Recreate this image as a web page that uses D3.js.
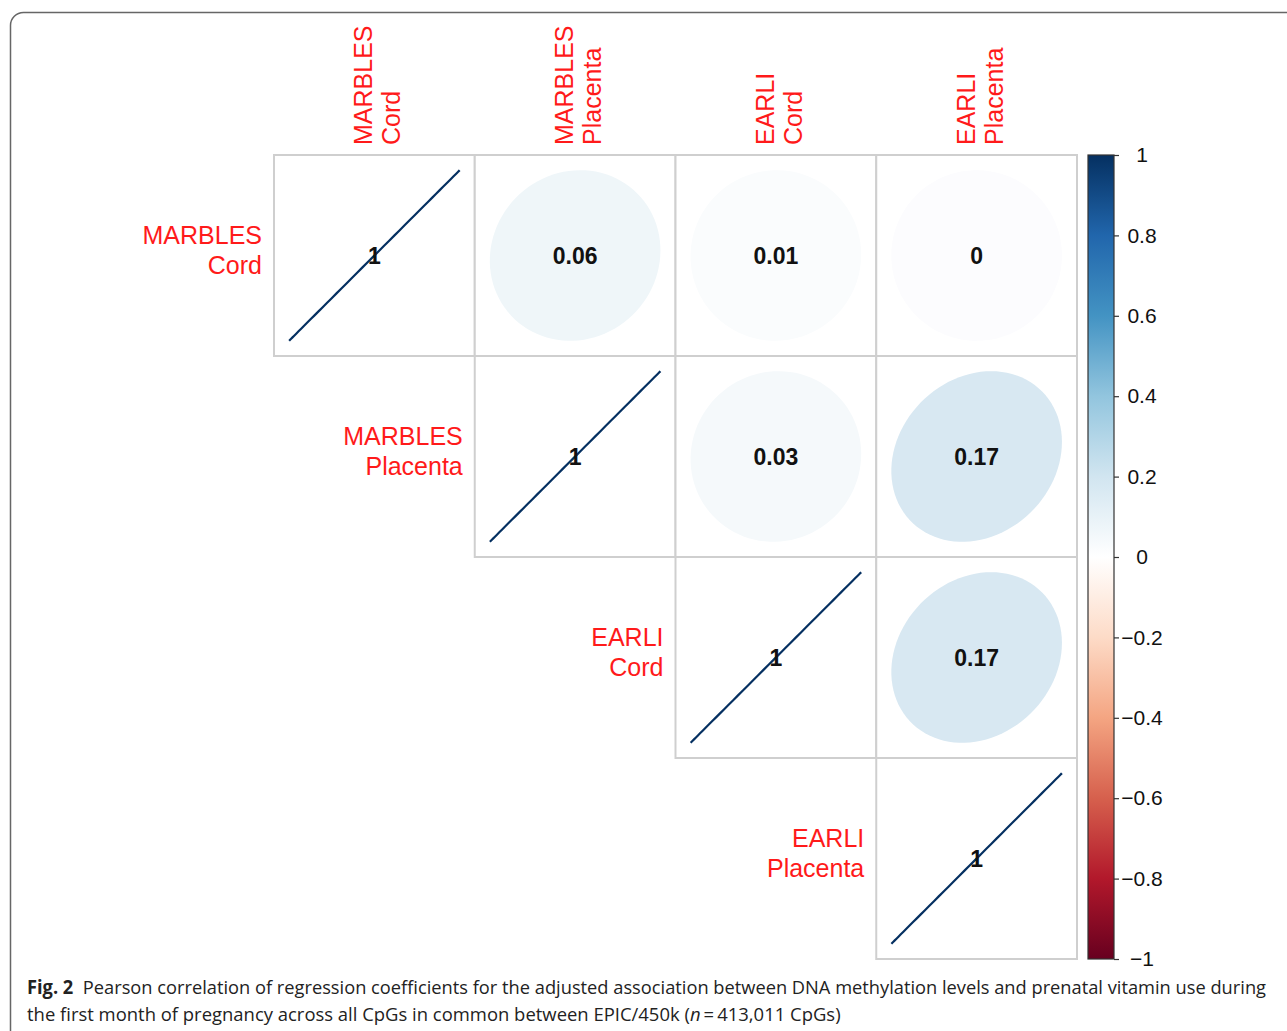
<!DOCTYPE html>
<html>
<head>
<meta charset="utf-8">
<script src="https://cdn.jsdelivr.net/npm/d3@7"></script>
<style>
  body { margin: 0; background: #fff; }
  svg { display: block; }
</style>
</head>
<body>
<div class="Corr"></div>
<script>
// variables (row / column names), correlation matrix, colorbar ticks
var categories = ["MARBLES Cord", "MARBLES Placenta", "EARLI Cord", "EARLI Placenta"];
var corrRows = [
	[1, 0.06, 0.01, 0],
	[0.06, 1, 0.03, 0.17],
	[0.01, 0.03, 1, 0.17],
	[0, 0.17, 0.17, 1]
];
var barTicks = [1, 0.8, 0.6, 0.4, 0.2, 0, -0.2, -0.4, -0.6, -0.8, -1];
var palette = ["#67001F", "#B2182B", "#D6604D", "#F4A582", "#FDDBC7", "#FFFFFF",
	"#D1E5F0", "#92C5DE", "#4393C3", "#2166AC", "#053061"];

var width = 1287,
	height = 1031;

var svg = d3.select(".Corr").append("svg")
	.attr("width", width)
	.attr("height", height);

// outer figure frame
svg.append("rect")
	.attr("x", 10.5).attr("y", 12.5)
	.attr("width", 1320).attr("height", 1080)
	.attr("rx", 13)
	.attr("fill", "none")
	.attr("stroke", "#666")
	.attr("stroke-width", 1.5);

var x = d3.scaleBand().domain(categories).range([274, 1077]);
var y = d3.scaleBand().domain(categories).range([155, 959]);
var bw = x.bandwidth();

var color = d3.scaleLinear()
	.domain(d3.range(palette.length).map(function(i) { return -1 + 2 * i / (palette.length - 1); }))
	.range(palette);

// corrplot style: 200 binned colours
var nCol = 200;
var binned = d3.range(nCol).map(function(i) { return color(-1 + 2 * i / (nCol - 1)); });
function fillFor(v) {
	var t = Math.min((v + 1) / 2, 1 - 1e-10);
	return d3.interpolateRgb(binned[Math.floor(t * nCol)], "#e2ebf1")(0.08);
}

var cells = [];
corrRows.forEach(function(row, i) {
	row.forEach(function(v, j) {
		if (j >= i) cells.push({ r: categories[i], c: categories[j], v: v });
	});
});

// corrplot ellipse shape
function ellPath(rho, cx, cy) {
	var a = Math.acos(Math.max(-1, Math.min(1, rho)));
	var pts = d3.range(0, 100).map(function(k) {
		var t = 2 * Math.PI * k / 99;
		return [cx + 0.85 * bw * Math.cos(t + a / 2) / 2, cy - 0.85 * bw * Math.cos(t - a / 2) / 2];
	});
	return d3.line()(pts);
}

var g = svg.append("g");

g.selectAll("rect.cell")
	.data(cells)
	.enter().append("rect")
	.attr("class", "cell")
	.attr("x", function(d) { return x(d.c); })
	.attr("y", function(d) { return y(d.r); })
	.attr("width", bw)
	.attr("height", y.bandwidth())
	.attr("fill", "#fff")
	.attr("stroke", "#cfcfcf")
	.attr("stroke-width", 2);

g.selectAll("path.ell")
	.data(cells)
	.enter().append("path")
	.attr("class", "ell")
	.attr("d", function(d) { return ellPath(d.v, x(d.c) + bw / 2, y(d.r) + y.bandwidth() / 2); })
	.attr("fill", function(d) { return d.v >= 0.999 ? "none" : fillFor(d.v); })
	.attr("stroke", function(d) { return d.v >= 0.999 ? color(d.v) : "none"; })
	.attr("stroke-width", 2.2);

g.selectAll("text.num")
	.data(cells)
	.enter().append("text")
	.attr("class", "num")
	.attr("x", function(d) { return x(d.c) + bw / 2; })
	.attr("y", function(d) { return y(d.r) + y.bandwidth() / 2 + 8; })
	.attr("text-anchor", "middle")
	.style("font-family", "'Liberation Sans', Arial, sans-serif")
	.style("font-weight", "bold")
	.style("font-size", "23px")
	.style("fill", "#111")
	.text(function(d) { return d3.format("~r")(d.v); });

// row labels (right-aligned, left of the first cell in each row)
var rowLab = svg.selectAll("text.rowlab")
	.data(categories)
	.enter().append("text")
	.attr("class", "rowlab")
	.attr("text-anchor", "end")
	.style("font-family", "'Liberation Sans', Arial, sans-serif")
	.style("font-size", "25px")
	.style("fill", "#ff1a1a");
rowLab.each(function(d, i) {
	var parts = d.split(" ");
	var cy = y(d) + y.bandwidth() / 2;
	var xr = x(d) - 12;
	d3.select(this).selectAll("tspan").data(parts).enter().append("tspan")
		.attr("x", xr)
		.attr("y", function(p, k) { return cy - 12 + k * 30; })
		.text(function(p) { return p; });
});

// column labels (rotated)
svg.selectAll("g.collab")
	.data(categories)
	.enter().append("g")
	.attr("class", "collab")
	.attr("transform", function(d) { return "translate(" + (x(d) + bw / 2) + ",145) rotate(-90)"; })
	.each(function(d) {
		d3.select(this).selectAll("text").data(d.split(" ")).enter().append("text")
			.attr("x", 0)
			.attr("y", function(p, k) { return -2 + k * 28; })
			.style("font-family", "'Liberation Sans', Arial, sans-serif")
			.style("font-size", "25px")
			.style("fill", "#ff1a1a")
			.text(function(p) { return p; });
	});

// colorbar
var yBar = d3.scaleLinear().domain([-1, 1]).range([959, 155]);
var defs = svg.append("defs");
var grad = defs.append("linearGradient")
	.attr("id", "barGrad")
	.attr("x1", 0).attr("y1", 1).attr("x2", 0).attr("y2", 0);
grad.selectAll("stop")
	.data(color.domain())
	.enter().append("stop")
	.attr("offset", function(d) { return (d + 1) / 2; })
	.attr("stop-color", function(d) { return color(d); });

svg.append("rect")
	.attr("x", 1088).attr("y", yBar(1))
	.attr("width", 26).attr("height", yBar(-1) - yBar(1))
	.attr("fill", "url(#barGrad)")
	.attr("stroke", "#333")
	.attr("stroke-width", 1.2);

var axis = svg.append("g")
	.attr("transform", "translate(1114,0)")
	.call(d3.axisRight(yBar).tickValues(barTicks).tickSize(5).tickFormat(d3.format("~g")));
axis.select(".domain").remove();
axis.selectAll(".tick line").attr("stroke", "#333").attr("stroke-width", 1.2);
axis.selectAll(".tick text")
	.attr("x", 28)
	.attr("text-anchor", "middle")
	.style("font-family", "'Liberation Sans', Arial, sans-serif")
	.style("font-size", "21px")
	.style("fill", "#111");

// caption, squeezed horizontally to the width of the original lines
function caption(yPos, targetW, parts) {
	var gc = svg.append("g");
	var t = gc.append("text")
		.attr("x", 0).attr("y", 0)
		.style("font-family", "'Open Sans', sans-serif")
		.style("font-size", "19px")
		.style("fill", "#222");
	parts.forEach(function(p) {
		var ts = t.append("tspan").text(p.text);
		if (p.bold) ts.style("font-weight", "bold");
		if (p.italic) ts.style("font-style", "italic");
	});
	var w = t.node().getComputedTextLength();
	var s = Math.min(1, targetW / w);
	gc.attr("transform", "translate(27," + yPos + ") scale(" + s + ",1)");
}
caption(994, 1240, [
	{ text: "Fig. 2", bold: true },
	{ text: "\u00a0\u00a0Pearson correlation of regression coefficients for the adjusted association between DNA methylation levels and prenatal vitamin use during" }
]);
caption(1021, 814, [
	{ text: "the first month of pregnancy across all CpGs in common between EPIC/450k (" },
	{ text: "n", italic: true },
	{ text: "\u2009=\u2009413,011 CpGs)" }
]);
</script>
</body>
</html>
